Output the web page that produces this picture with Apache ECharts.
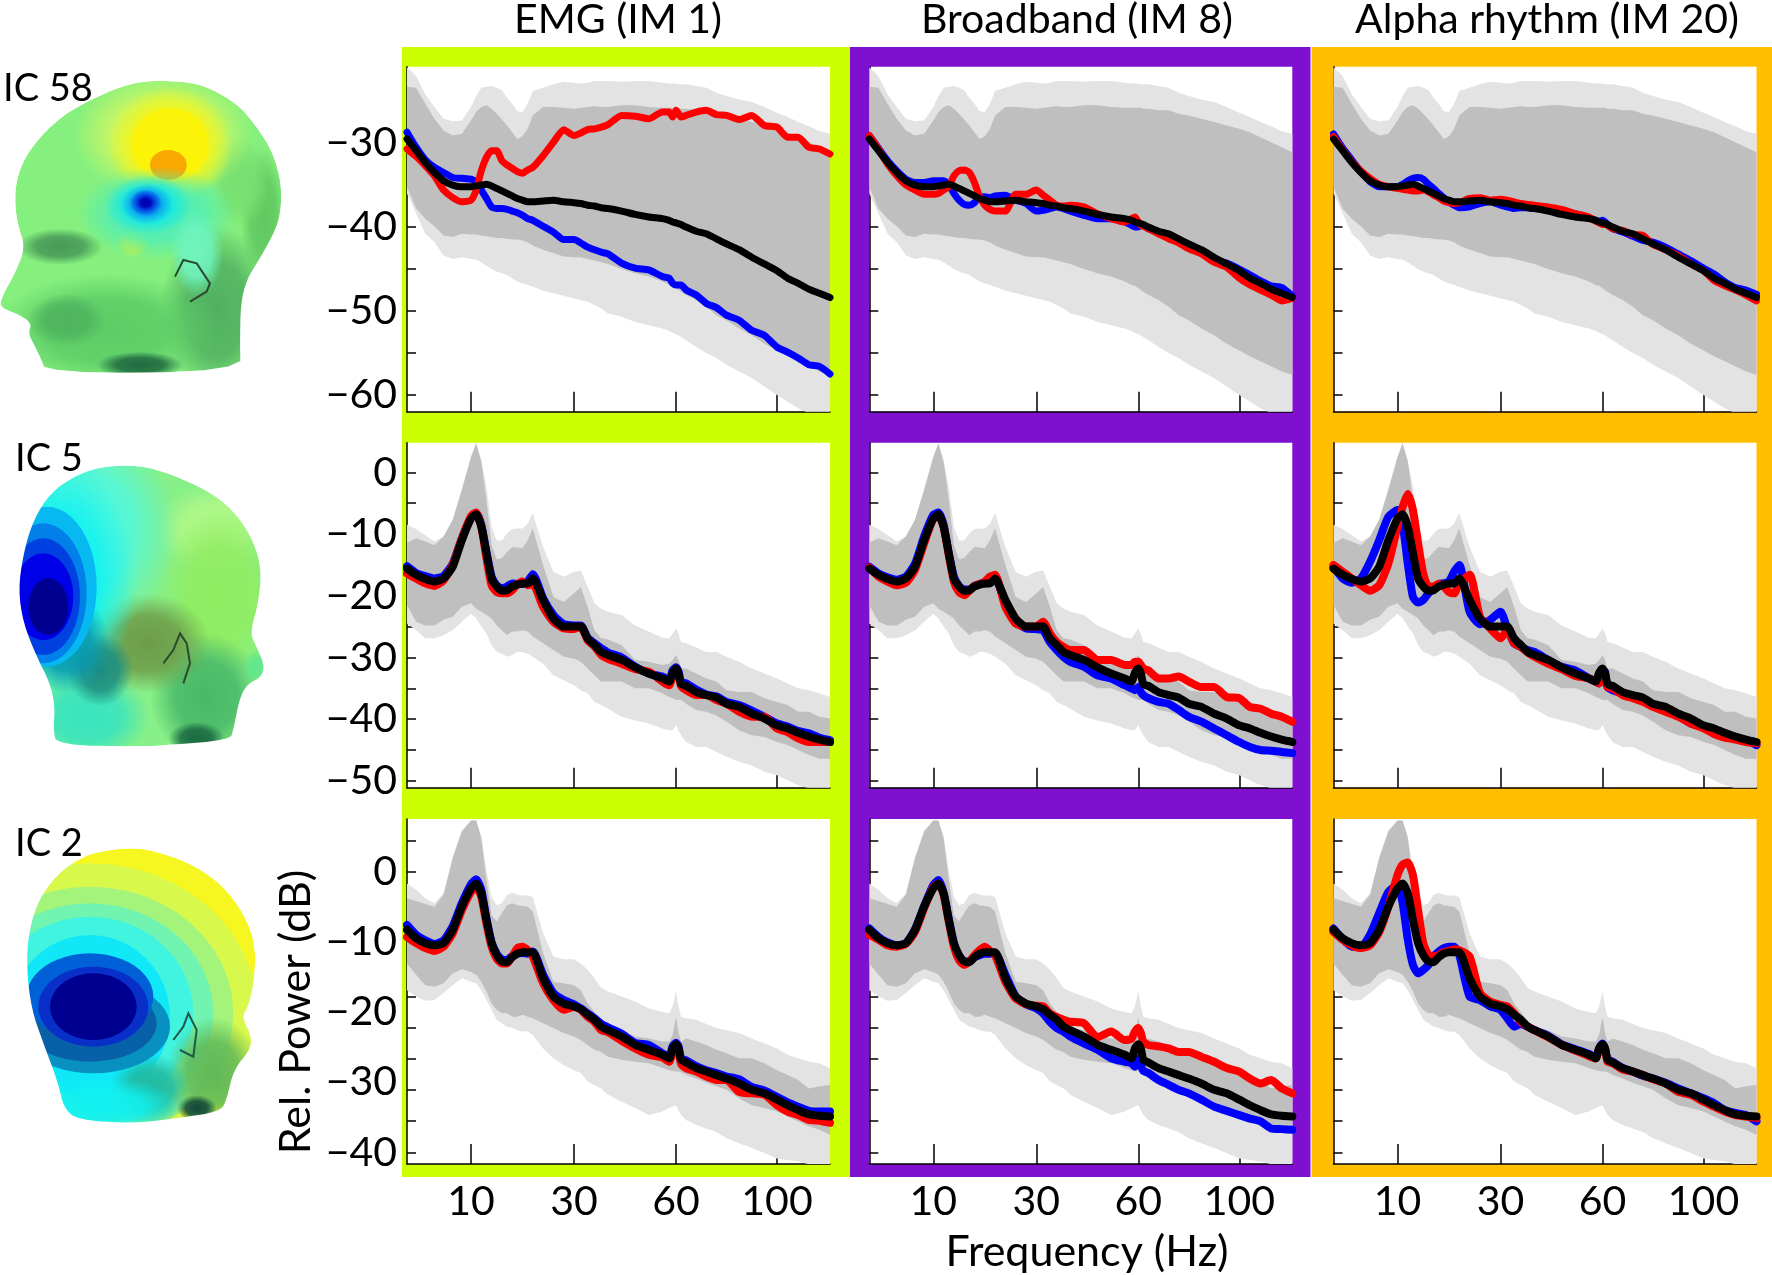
<!DOCTYPE html>
<html><head><meta charset="utf-8">
<style>html,body{margin:0;padding:0;background:#fff}#c{width:1772px;height:1275px}</style>
<script src="https://cdn.jsdelivr.net/npm/echarts@6/dist/echarts.min.js"></script>
</head><body><div id="c"></div>
<script>
// ---------- shared frequency samples (Hz) and tick labels ----------
const freqHz=[3,4,5,6,7,8,9,10,11,12, 13,14,15,16,17,18,19,20,21,22, 24,26,28,30, 32,34,36,38,40, 44,48,52,56,58, 59,60,61,62,64, 68,72,76,80,85, 90,95,100, 105,110,115,120,125];
const xTicks=[10,30,60,100];
const warpHz=[3,10,30,60,100,125];
const warpAxis=[0,64,167,269,370,423];
const columnTitles=['EMG (IM 1)','Broadband (IM 8)','Alpha rhythm (IM 20)'];
const rowLabels=['IC 58','IC 5','IC 2'];
const row1TickVals=[-25,-30,-35,-40,-45,-50,-55,-60];
const row1Labels=[-30,-40,-50,-60];
const row2TickVals=[0,-5,-10,-15,-20,-25,-30,-35,-40,-45,-50];
const row2Labels=[0,-10,-20,-30,-40,-50];
const row3TickVals=[4.44,0,-4.44,-8.89,-13.33,-17.78,-22.22,-26.67,-31.11,-35.56,-40];
const row3Labels=[0,-10,-20,-30,-40];

// ---------- row 1 (IC 58) ----------
const r1LightHi=[-21,-22,-24.2,-25.7,-27.1,-27.4,-27.3,-25.7,-24.4,-23.4, -23.3,-23.2,-23.4,-23.7,-24.6,-25.3,-26.2,-26.3,-25.3,-23.8, -23.4,-23,-22.7,-22.8, -22.9,-22.8,-22.6,-22.6,-22.6, -22.7,-22.6,-22.6,-22.8,-22.9, -22.9,-22.9,-23,-23,-23, -23.2,-23.4,-24,-24.4,-24.8, -25.1,-25.7,-26.4, -26.9,-27.5,-28,-28.6,-28.9];
const r1DarkHi=[-23.3,-23.4,-25.3,-27.1,-28.5,-29.1,-28.9,-27.3,-26.3,-25.7, -25.5,-25.9,-26.5,-27.2,-27.9,-28.7,-29.5,-29.2,-28.3,-26.7, -25.7,-25.7,-25.8,-25.9, -25.8,-25.7,-25.6,-25.7,-25.7, -25.5,-25.5,-25.7,-25.8,-25.8, -25.8,-25.8,-25.8,-25.9,-25.9, -26.1,-26.1,-26.5,-26.7,-27.1, -27.5,-27.9,-28.3, -28.7,-29.3,-29.9,-30.5,-31.1];
const r1DarkLo=[-35.2,-37.8,-39,-39.9,-41,-41.2,-40.8,-40.9,-40.9,-41, -41.1,-41.2,-41.3,-41.3,-41.4,-41.5,-41.5,-41.6,-41.8,-42.2, -42.7,-43.1,-43.5,-43.6, -43.6,-43.8,-44,-44.2,-44.4, -45,-45.5,-45.9,-46.5,-46.9, -47,-47.3,-47.5,-47.7,-48.1, -48.7,-49.5,-50.5,-51.1,-52.1, -52.9,-53.9,-54.7, -55.4,-56,-56.6,-57.2,-57.6];
const r1LightLo=[-36,-38.4,-40.8,-41.8,-43.4,-43.8,-43.6,-43.8,-43.9,-44.2, -44.6,-45,-45.3,-45.5,-45.7,-46.1,-46.5,-46.7,-46.9,-47.1, -47.6,-47.9,-48.2,-48.5, -48.7,-48.9,-49.3,-49.7,-50.3, -50.7,-51.3,-51.7,-52.1,-52.4, -52.6,-52.8,-52.9,-53.1,-53.5, -54.3,-55,-55.6,-56.4,-57.2, -58,-59,-60, -60.8,-61.6,-62.2,-62.8,-63.4];
const r1Black=[-29.5,-30.9,-32.3,-33.5,-34.5,-35,-35.2,-35.2,-35.1,-35, -34.9,-35.1,-35.4,-35.7,-36,-36.3,-36.6,-36.8,-37,-37, -36.9,-36.8,-37,-37.1, -37.2,-37.4,-37.5,-37.7,-37.8, -38.1,-38.5,-38.8,-39,-39.2, -39.4,-39.5,-39.6,-39.7,-40, -40.5,-40.8,-41.4,-42,-42.7, -43.6,-44.4,-45.2, -46.1,-46.7,-47.4,-47.9,-48.4];
const r1c1Red=[-30.7,-31.6,-32.7,-33.9,-35.6,-36.5,-37,-36.8,-35.6,-33.3, -31.7,-30.9,-30.9,-32.1,-32.6,-33,-33.4,-33.6,-33.2,-32.9, -31.5,-29.9,-28.4,-29.1, -28.8,-28.4,-28.3,-28.1,-27.8, -26.7,-26.8,-27.1,-26.3,-26.3, -26.9,-26.1,-26.5,-26.9,-26.7, -26.3,-26.1,-26.6,-26.7,-27.2, -26.7,-27.9,-28.1, -29.3,-29.3,-30.5,-30.7,-31.3];
const r1c1Blue=[-28.7,-30.5,-32,-32.9,-33.5,-34.1,-34.2,-34.3,-34.7,-35.6, -36.6,-37.6,-37.8,-37.8,-37.9,-38.1,-38.3,-38.6,-39,-39.2, -39.9,-40.6,-41.5,-41.5, -41.9,-42.4,-42.7,-43,-43.2, -44.3,-44.9,-45.1,-45.9,-46.1, -46.7,-46.9,-46.9,-46.9,-47.5, -48.1,-49.1,-49.6,-50.5,-51.1, -52.3,-52.9,-54.3, -54.9,-55.6,-56.4,-56.6,-57.5];
const r1c2Red=[-29.1,-30.7,-32.5,-33.9,-35,-35.6,-36.1,-36.1,-36,-35.6, -35.2,-33.9,-33.3,-33.2,-33.5,-34.7,-36.4,-37.4,-37.9,-38.1, -38.1,-36.1,-36.1,-35.6, -36.2,-36.8,-37.4,-37.5,-37.4, -37.6,-38.4,-39,-39.4,-39, -38.8,-39.4,-39.8,-39.9,-40.2, -40.8,-41.4,-41.9,-42.6,-43.2, -44.2,-44.8,-46.1, -46.9,-47.5,-48.1,-48.8,-48.5];
const r1c2Blue=[-29.1,-30.6,-32.1,-33.3,-34.3,-34.7,-34.7,-34.5,-34.5,-34.5, -34.9,-36,-36.8,-37.3,-37.4,-37.1,-36.4,-36.4,-36.5,-36.3, -36.2,-36.8,-37.2,-38.1, -38,-37.8,-37.6,-37.8,-38.1, -38.6,-39,-39,-39.4,-39.8, -40,-40,-39.8,-39.8,-40.2, -40.6,-41.1,-41.6,-42.2,-43, -43.9,-44.3,-45, -45.7,-46.4,-47,-47.2,-48.2];
const r1c3Red=[-29.2,-30.8,-32.2,-33.3,-34.2,-34.9,-35.2,-35.4,-35.5,-35.6, -35.7,-35.7,-35.6,-35.8,-36.2,-36.5,-36.9,-37.1,-37.2,-37.1, -36.6,-36.5,-36.8,-36.7, -36.8,-37,-37.2,-37.3,-37.4, -37.6,-37.9,-38.4,-38.8,-39.3, -39.5,-39.7,-39.7,-39.8,-40.2, -40.4,-40.9,-41,-42.1,-42.7, -43.4,-44.4,-45.2, -46.4,-47,-47.5,-48.1,-48.8];
const r1c3Blue=[-28.9,-30.6,-32,-33.4,-34.6,-35.2,-35.2,-35.2,-34.9,-34.5, -34.2,-34.1,-34.3,-34.9,-35.4,-36,-36.5,-37,-37.4,-37.7, -37.6,-37.2,-37,-37.4, -37.6,-37.8,-37.7,-37.7,-37.8, -37.9,-38.2,-38.4,-38.9,-39.2, -39.3,-39.2,-39.4,-39.7,-40.2, -40.6,-41.1,-41.6,-41.8,-42.4, -43.2,-44,-44.9, -45.6,-46.5,-47.2,-47.5,-48];

// ---------- row 2 (IC 5) ----------
const r2LightHi=[-8.5,-9.2,-10.2,-11.2,-10.4,-7.7,-2.6,2.5,4.7,2, -2.3,-8.8,-11.1,-11,-9.9,-9.2,-9.1,-9.1,-8.3,-6.6, -12.1,-16.1,-16.9,-16.1, -15.9,-18.5,-21.2,-22.1,-22.6, -23.1,-24.8,-25.8,-26.8,-26.9, -26.1,-25.3,-26.1,-27.5,-27.7, -28.4,-29.1,-29.1,-29.9,-30.7, -31.8,-32.6,-33.4, -34.2,-35,-35.3,-35.8,-36.4];
const r2DarkHi=[-11.4,-10.7,-11.2,-11.8,-10.4,-7.7,-2.9,2.5,4.7,1.7, -4.5,-11.8,-14.1,-13.9,-12.9,-12.1,-12.2,-12.3,-11,-9.1, -15,-20.2,-21,-19.6, -18.6,-21.8,-25.6,-26.9,-27.1, -28,-30.4,-30.7,-31.2,-31, -30.4,-29.6,-30.4,-31.8,-31.8, -32.6,-33.4,-33.9,-35.3,-35.6, -35.6,-36.6,-37.2, -37.7,-38.8,-38.8,-39.6,-39.9];
const r2DarkLo=[-21.5,-24.2,-24.8,-24.8,-23.9,-23.4,-21.8,-21.2,-22.1,-22.6, -23.1,-23.7,-24.8,-25.6,-26.4,-25.8,-25.8,-25.6,-25.8,-26.6, -27.7,-28.8,-29.9,-30.2, -30.7,-31.8,-32.9,-33.9,-33.9, -33.9,-35,-35,-35.8,-36.4, -36.6,-36.9,-36.9,-36.9,-37.5, -38.5,-38.8,-39.4,-40.4,-41.8, -42.6,-42.9,-43.7, -44.2,-45,-45.8,-46.4,-46.4];
const r2LightLo=[-24.5,-25.6,-26.9,-26.9,-26.4,-25.6,-24.2,-22.9,-23.7,-25, -26.1,-28,-29.1,-29.4,-29.9,-29.6,-29.1,-29.1,-29.4,-29.9, -31,-32.9,-33.7,-34.5, -35.3,-35.8,-37.2,-37.7,-38.3, -39.6,-40.2,-40.7,-41.5,-41.8, -41.8,-41,-41.8,-42.6,-43.7, -44.5,-44.5,-45.3,-46.1,-46.9, -47.5,-48.5,-49.1, -49.9,-50.7,-51.2,-51.8,-52.1];
const r2Black=[-15.6,-16.6,-17.3,-17.7,-17.2,-15.3,-11,-7.5,-6.8,-8.8, -13.1,-17.2,-18.5,-19.2,-19.1,-18.5,-18.2,-18,-18,-17.2, -20.7,-23.7,-25,-25, -25,-26.9,-28,-29.1,-29.6, -30.4,-31.6,-32.6,-33.4,-33.9, -32.5,-31.8,-32.6,-34.3,-34.6, -35.6,-36.1,-36.5,-37.5,-38, -39.1,-39.9,-41, -41.5,-42.2,-42.8,-43.3,-43.7];
const r2c1Red=[-16.4,-17.2,-18,-18.4,-17.5,-15,-10.7,-7.1,-6.5,-8.8, -13.9,-18.3,-19.4,-19.6,-19.6,-19.1,-18.1,-17.7,-18.3,-18.1, -21.8,-24.2,-25.3,-25.4, -25,-27.2,-28.2,-29.6,-30.2, -31,-31.9,-32.3,-33.9,-34.5, -32.9,-32.1,-32.9,-34.6,-35.3, -36.1,-36.1,-36.9,-37.5,-38.8, -39.6,-39.6,-41.5, -42.1,-43.1,-43.7,-43.7,-43.7];
const r2c1Blue=[-15.2,-16.3,-16.8,-17.2,-16.8,-14.8,-10.7,-7.3,-6.6,-8.5, -12.9,-16.9,-18.3,-18.8,-18.5,-18,-18.1,-18.1,-17.7,-16.5, -20.4,-23.1,-24.6,-24.8, -24.8,-26.8,-27.7,-28.5,-29.2, -30,-31.5,-32.6,-33.1,-33.7, -32.1,-31.6,-32.3,-33.9,-34.2, -35.2,-36,-36.3,-37.2,-37.7, -38.6,-39.6,-40.7, -41.2,-41.9,-42.3,-43,-43.4];
const r2c2Red=[-15.4,-16.9,-17.7,-18.3,-17.9,-15.8,-11.5,-7.5,-7.2,-8.8, -13.4,-17.7,-19.4,-19.9,-19.2,-18.4,-18.1,-17.7,-16.9,-16.6, -21.8,-24.5,-25,-25, -24.2,-26.1,-27.5,-28.3,-28.8, -28.8,-30.4,-30.4,-31.2,-31.2, -30.7,-30.7,-31.2,-31.8,-32.1, -33.4,-33.4,-33.1,-33.9,-34.8, -34.8,-36.4,-36.6, -38,-38.3,-39.1,-39.6,-40.4];
const r2c2Blue=[-15.3,-16.4,-17,-17.4,-16.9,-14.8,-10.4,-6.9,-6.5,-8.5, -13.1,-16.9,-18.4,-19,-19,-18.4,-18.1,-18,-17.9,-17.2, -21.2,-24.2,-25.3,-25.4, -25.6,-27.5,-28.8,-29.9,-30.7, -31.5,-32.9,-33.4,-34.5,-35, -35.3,-34.8,-35.6,-36.1,-36.6, -37.2,-37.5,-38.5,-39.6,-40.4, -41.5,-42.6,-43.7, -44.5,-45,-45.1,-45.3,-45.5];
const r2c3Red=[-15,-16.1,-17.2,-18.3,-19.2,-18.3,-14.8,-8.8,-5.6,-3.5, -6.1,-11.5,-16.4,-18.5,-18.5,-18.1,-18.5,-19.4,-19.6,-18, -16.6,-23.4,-25.3,-26.9, -25.6,-27.7,-28.3,-29.2,-29.9, -31,-31.9,-33,-33.4,-33.9, -34.2,-32.9,-33.1,-34.8,-35, -36.1,-36.6,-37.2,-38,-38.8, -39.6,-40.7,-41.5, -42.4,-43,-43.3,-43.7,-43.9];
const r2c3Blue=[-15.3,-17.2,-17.9,-17.2,-14.5,-11,-7.2,-6.1,-8.5,-14.8, -20.2,-21.1,-20.7,-19.6,-18.8,-18.1,-18,-17.7,-16.1,-15, -22.6,-24.6,-23.9,-22.6, -25.3,-27.7,-28.3,-28.8,-29.1, -30.4,-31.5,-32.1,-33.4,-33.9, -34.2,-32.1,-32.3,-34.8,-35.3, -35.8,-36.4,-36.6,-37.7,-38.3, -39.4,-40.7,-41.2, -42.1,-42.6,-43.1,-43.4,-44.2];

// ---------- row 3 (IC 2) ----------
const r3LightHi=[-1.7,-2.6,-3.8,-4.5,-3.1,2.1,5.9,7.3,7.3,5, 0.2,-3.6,-4.8,-4.5,-3.3,-3,-3.3,-3.4,-3.4,-3.6, -8.8,-12.1,-12.5,-12.5, -13.1,-14,-15.2,-16.6,-17.1, -17.8,-18.5,-19.5,-20,-20.2, -19.2,-17.1,-19.2,-20.7,-20.9, -21.1,-21.7,-22.3,-22.6,-23, -23.8,-24.5,-25.2, -26.1,-26.6,-27.1,-27.3,-28];
const r3DarkHi=[-3.8,-4.2,-4.6,-5,-3.3,1.9,5.7,7.3,7.3,4.8, -1.2,-6.2,-7.1,-5.9,-4.8,-4.5,-4.8,-4.9,-5,-5.7, -11.6,-15.7,-15.9,-16.2, -16.9,-18.8,-20,-21.4,-22.1, -22.6,-23.5,-23.8,-24.2,-24.2, -23.3,-20.7,-23,-24.2,-23.8, -24.2,-24.7,-25.4,-25.9,-26.6, -26.6,-27.3,-28.3, -29,-29.7,-30.9,-30.6,-30.4];
const r3DarkLo=[-13.1,-14.7,-16.2,-16.4,-15.9,-14.5,-13.9,-14.3,-14.7,-15.7, -17.1,-18.8,-19.7,-20.2,-20.2,-20.7,-20.7,-20.4,-20.7,-20.9, -21.6,-22.3,-23,-23.5, -24,-24.7,-25.4,-25.7,-26.4, -26.8,-27.1,-27.3,-28,-28.3, -28.4,-28.5,-28.5,-28.6,-29, -29.5,-30.1,-30.6,-31.1,-32.3, -33.3,-33.7,-34.2, -34.9,-35.6,-36.3,-36.8,-37.5];
const r3LightLo=[-16.9,-17.8,-18.4,-18.3,-17.3,-16.2,-15.2,-15.7,-15.9,-16.9, -18.3,-19.7,-21.1,-21.6,-22.1,-22.3,-22.6,-22.8,-22.8,-23.3, -25.2,-26.6,-27.6,-28.3, -28.7,-29.9,-30.4,-30.9,-31.8, -32.8,-33.7,-34.7,-34.2,-33.7, -33.5,-33.3,-34,-34.7,-35.4, -36.1,-36.6,-37.1,-38,-38.7, -39.4,-40.1,-40.9, -41.1,-41.3,-41.7,-42,-42.4];
const r3Black=[-8.3,-9.5,-10.2,-10.5,-10.2,-8.3,-5,-2.4,-1.7,-3.1, -6.9,-10.2,-11.9,-12.8,-12.9,-12.2,-11.7,-11.5,-11.5,-11.5, -15.2,-17.8,-18.8,-19.2, -19.6,-20.4,-21.1,-22.1,-22.6, -23.5,-24.7,-25.4,-26.1,-26.6, -25.2,-24.6,-25.2,-26.8,-27.2, -28,-28.5,-29,-29.5,-30.2, -31.1,-31.6,-32.5, -33.3,-34,-34.6,-34.8,-34.9];
const r3c1Red=[-9.3,-10.2,-10.9,-11.3,-10.7,-8.8,-5.5,-2.9,-2.2,-3.6, -7.4,-10.7,-12.4,-13.1,-13.1,-12.1,-10.9,-10.7,-11.2,-12.1, -15.9,-18.3,-19.7,-19.3, -19.7,-20.7,-21.4,-22.6,-22.9, -24.1,-25.2,-26.1,-26.5,-27.1, -25.7,-25,-25.7,-27.4,-28, -28.5,-29.2,-29.7,-29.7,-31.4, -31.6,-31.8,-33.3, -34.2,-34.7,-35.4,-35.5,-35.8];
const r3c1Blue=[-7.6,-9,-9.8,-10.3,-9.8,-7.8,-4.5,-1.8,-1.1,-2.6, -6.7,-10.1,-11.7,-12.5,-12.6,-12,-11.7,-11.6,-11.7,-11.4, -14.7,-17.3,-18.3,-18.9, -19.5,-20.2,-20.9,-21.7,-22.2, -23.1,-24.4,-24.7,-25.9,-26.4, -24.9,-24.4,-24.9,-26.6,-26.9, -27.7,-28.3,-28.7,-29.2,-29.6, -30.7,-31.2,-32.1, -32.9,-33.5,-34.1,-34.2,-34.2];
const r3c2Red=[-9,-9.7,-10.5,-10.7,-10.3,-8.6,-5.2,-2.2,-1.7,-3.3, -7.1,-10.7,-12.6,-13.3,-12.8,-11.9,-11.2,-10.7,-11.3,-11.9, -15.7,-18.1,-18.9,-19.1, -19.2,-20.2,-20.7,-21.1,-21.4, -21.6,-23.6,-22.8,-24,-23.8, -22.8,-22.3,-23,-24.2,-24.7, -24.9,-25.2,-25.7,-25.7,-26.4, -27.1,-28,-28.5, -29.5,-30.2,-29.7,-30.9,-31.6];
const r3c2Blue=[-8.1,-9.3,-10.1,-10.5,-10.2,-8.2,-4.9,-1.9,-1.2,-3, -6.7,-10.2,-12.1,-12.8,-12.8,-12.2,-11.9,-11.7,-11.7,-11.6, -14.7,-17.8,-18.9,-19.5, -20.2,-21.4,-22.3,-22.8,-23.5, -24.5,-25.4,-26.6,-27.1,-27.3, -27.8,-26.6,-27.6,-28.4,-28.7, -29.7,-30.4,-31.1,-31.6,-32.5, -33.5,-34.1,-34.7, -35.2,-35.6,-36.6,-36.7,-36.8];
const r3c3Red=[-8.6,-9.7,-10.5,-10.9,-10.5,-8.6,-5,-0.5,1,1.3, -0.5,-5.5,-10.2,-11.9,-12.1,-11.9,-11.5,-11.3,-11.1,-11.2, -12.1,-17.3,-18.5,-19, -19.2,-20.2,-21.4,-22.1,-22.6, -23.6,-24.7,-25.5,-26.3,-26.6, -25.2,-24.7,-25.2,-27.1,-27.3, -28.2,-28.5,-29,-29.6,-30.2, -31.4,-31.8,-32.8, -33.5,-34.2,-34.7,-34.9,-35.1];
const r3c3Blue=[-8.1,-9.6,-10.7,-10.7,-9,-5.9,-2.9,-1.9,-4.5,-9.7, -13.3,-14.5,-14,-13.3,-12.1,-11.4,-10.9,-10.7,-10.7,-11.9, -17.8,-18.3,-19.2,-19.7, -20.9,-22.1,-21.7,-22.1,-22.6, -23.4,-24.6,-25.3,-26,-26.5, -25.2,-24.5,-25.2,-26.7,-27.1, -28,-28.5,-29.1,-29.5,-30.1, -30.9,-31.6,-32.3, -33,-34,-34.4,-34.7,-35.6];

// ---------- layout & styling ----------
const FONT='Lato';
const GREY_L='#E3E3E3',GREY_D='#BFBFBF';
const panelLeft=[407,869.3,1333.5], panelTop=[66.7,442.7,819], panelW=423, panelH=345;
const frames=[[402,850,'#CCFF00'],[850,1310.5,'#7F10CF'],[1311.5,1772,'#FFBF00']];
const titleX=[618,1077,1547];
const rows=[
 {yMin:-62,yMax:-20.9,ticks:row1TickVals,labels:row1Labels,lw:7,cw:7,bands:[r1LightHi,r1LightLo,r1DarkHi,r1DarkLo],black:r1Black,red:[r1c1Red,r1c2Red,r1c3Red],blue:[r1c1Blue,r1c2Blue,r1c3Blue]},
 {yMin:-51.1,yMax:4.8,ticks:row2TickVals,labels:row2Labels,lw:8,cw:8,bands:[r2LightHi,r2LightLo,r2DarkHi,r2DarkLo],black:r2Black,red:[r2c1Red,r2c2Red,r2c3Red],blue:[r2c1Blue,r2c2Blue,r2c3Blue]},
 {yMin:-41.67,yMax:7.5,ticks:row3TickVals,labels:row3Labels,lw:8,cw:8,bands:[r3LightHi,r3LightLo,r3DarkHi,r3DarkLo],black:r3Black,red:[r3c1Red,r3c2Red,r3c3Red],blue:[r3c1Blue,r3c2Blue,r3c3Blue]}
];
// The x axis of the figure is warped (equal spacing for 10/30/60/100 Hz).
function warp(hz){
  for(let i=1;i<warpHz.length;i++){
    if(hz<=warpHz[i]){const t=(hz-warpHz[i-1])/(warpHz[i]-warpHz[i-1]);return warpAxis[i-1]+t*(warpAxis[i]-warpAxis[i-1]);}
  }
  return warpAxis[warpAxis.length-1];
}
const fmtY=v=>String(v).replace('-','\u2212');
const fmtX=v=>{let b=xTicks[0];xTicks.forEach(h=>{if(Math.abs(warp(h)-v)<Math.abs(warp(b)-v))b=h;});return String(b);};
const pairs=a=>freqHz.map((h,i)=>[warp(h),a[i]]);

function bandSeries(name,hi,lo,color,ax){
  const data=freqHz.map((h,i)=>[warp(h),lo[i],hi[i]]);
  return {type:'custom',name,xAxisIndex:ax,yAxisIndex:ax,clip:true,silent:true,z:2,
    encode:{x:0,y:[1,2]},data,
    renderItem(params,api){
      if(params.dataIndex!==0)return null;
      const up=data.map(d=>api.coord([d[0],d[2]]));
      const dn=data.map(d=>api.coord([d[0],d[1]])).reverse();
      return {type:'polygon',shape:{points:up.concat(dn)},style:{fill:color,stroke:null}};
    }};
}
function lineSeries(a,color,w,ax,z){
  return {type:'line',data:pairs(a),xAxisIndex:ax,yAxisIndex:ax,showSymbol:false,symbol:'none',smooth:0.2,z,
    lineStyle:{color,width:w,cap:'round',join:'round'},silent:true,clip:true};
}

const grid=[],xAxis=[],yAxis=[],series=[];
const tickLine={color:'#000',width:1.5};
rows.forEach((R,r)=>{
  [0,1,2].forEach(c=>{
    const ax=grid.length;
    grid.push({left:panelLeft[c],top:panelTop[r],width:panelW,height:panelH,show:true,backgroundColor:'#fff',borderWidth:0,containLabel:false});
    xAxis.push({type:'value',gridIndex:ax,min:0,max:423,position:'bottom',splitLine:{show:false},
      axisLine:{show:true,onZero:false,lineStyle:tickLine},
      axisTick:{show:true,inside:true,length:20,lineStyle:tickLine,customValues:xTicks.map(warp)},
      axisLabel:{show:r===2,customValues:xTicks.map(warp),formatter:fmtX,fontFamily:FONT,fontSize:41,color:'#000',margin:17,hideOverlap:false}});
    yAxis.push({type:'value',gridIndex:ax,min:R.yMin,max:R.yMax,position:'left',splitLine:{show:false},
      axisLine:{show:true,onZero:false,lineStyle:tickLine},
      axisTick:{show:true,inside:true,length:9,lineStyle:tickLine,customValues:R.ticks},
      axisLabel:{show:c===0,customValues:R.labels,formatter:fmtY,fontFamily:FONT,fontSize:41,color:'#000',margin:10,hideOverlap:false}});
    series.push(bandSeries('light',R.bands[0],R.bands[1],GREY_L,ax));
    series.push(bandSeries('dark',R.bands[2],R.bands[3],GREY_D,ax));
    series.push(lineSeries(R.blue[c],'#0000FF',R.cw,ax,3));
    series.push(lineSeries(R.red[c],'#FF0000',R.cw,ax,4));
    series.push(lineSeries(R.black,'#000',R.lw,ax,5));
  });
});

// ---------- decorative head illustrations ----------
// blob: [cx, cy, rx, ry, colour, soft?]  soft blobs fade out at their rim.
const heads=[
 {ox:0,oy:50,box:[0,52,295,405],
  outline:[[420,95],[500,92],[590,100],[660,130],[720,170],[770,230],[815,300],[840,380],[845,450],[835,520],[800,590],[770,640],[740,690],[722,760],[720,880],[722,965],[140,970],[120,920],[100,880],[85,850],[95,820],[60,795],[5,775],[0,750],[50,660],[75,590],[55,530],[45,470],[47,400],[70,330],[120,260],[190,195],[270,150],[350,115]],
  base:'#86F07E',
  blobs:[[650,780,170,260,'#50B060',1],[320,840,340,170,'#5CCC66',1],[420,945,130,40,'#206A40',1],[200,810,120,80,'#4EB45E',1],[180,590,130,55,'#489A58',1],[790,500,70,210,'#60C860',1],[720,400,90,140,'#78E070',1],
   [490,255,270,190,'#D4F860',1],[510,285,190,175,'#FCF408',1],[510,285,115,110,'#FCF408',0],[505,345,55,45,'#F8A800',0],
   [400,575,50,50,'#C8F040',1],
   [470,490,240,140,'#50EEB8',1],[590,610,80,130,'#70F4C0',1],[445,465,130,90,'#10E8E8',1],[440,462,78,60,'#0898F0',1],[437,458,48,40,'#0030E0',1],[437,458,26,22,'#0000B0',1]],
  ear:[[525,680],[550,630],[590,640],[630,700],[620,725],[570,755]],earColor:'#2A4A30'},
 {ox:0,oy:430,box:[0,405,295,785],
  outline:[[300,110],[420,105],[520,135],[620,180],[700,240],[760,330],[785,420],[775,520],[750,610],[770,650],[795,710],[780,745],[745,760],[720,800],[700,900],[690,930],[500,945],[430,950],[170,945],[160,900],[165,830],[150,760],[110,680],[70,580],[55,480],[70,370],[100,270],[150,190],[220,140]],
  base:'#88F088',
  blobs:[[640,300,170,140,'#B0F888',1],[660,500,180,260,'#90EC60',1],[620,800,170,190,'#48B868',1],[440,640,190,150,'#6E9C48',1],[590,925,85,50,'#1A6A40',1],[770,710,40,50,'#62E68C',1],
   [230,300,300,330,'#50F8E0',1],[170,450,240,370,'#10F2F2',1],[260,860,190,140,'#38E4C0',1],[300,720,100,110,'#1C8C80',1],
   [200,640,130,150,'#0898B0',1],[140,470,150,240,'#08B8F0',0],[130,490,130,210,'#0080E8',0],[130,500,110,175,'#0040E0',0],[130,500,90,130,'#0000E8',0],[145,530,60,85,'#000090',0]],
  ear:[[490,700],[520,660],[540,610],[560,640],[570,700],[550,760]],earColor:'#2A4A30'},
 {ox:0,oy:810,box:[0,785,295,1160],
  outline:[[290,125],[400,112],[470,125],[560,155],[650,210],[720,290],[765,390],[765,500],[745,590],[725,620],[755,680],[750,720],[700,780],[680,870],[660,905],[530,925],[400,940],[230,930],[190,890],[175,820],[130,700],[95,600],[80,480],[85,370],[115,270],[170,195],[230,150]],
  base:'#F6F620',
  blobs:[[270,600,500,440,'#D8F84C',0],[270,610,430,380,'#A4F47C',0],[270,610,370,330,'#70F4B0',0],[270,610,310,290,'#40F4E0',0],[270,620,240,245,'#10E8F8',0],
   [640,790,140,170,'#60B858',1],[590,895,60,40,'#104838',1],[450,840,120,110,'#20B8A0',1],[300,890,240,90,'#10F0F0',1],
   [280,650,230,140,'#0890C0',0],[270,640,200,115,'#0860A8',0],[270,560,190,130,'#0060D8',0],[280,590,165,120,'#0830C8',0],[280,590,130,100,'#000090',0]],
  ear:[[520,690],[550,650],[565,610],[590,660],[580,740],[540,720]],earColor:'#20584A'}
];
const graphicEls=[];
frames.forEach(f=>graphicEls.push({type:'rect',z:-20,silent:true,shape:{x:f[0],y:47,width:f[1]-f[0],height:1177-47},style:{fill:f[2]}}));
function ell(cx,cy,rx,ry){const p=[];for(let k=0;k<48;k++){const a=k/48*2*Math.PI;p.push([cx+rx*Math.cos(a),cy+ry*Math.sin(a)]);}return p;}
function chaikin(pts,n){let p=pts;for(let i=0;i<n;i++){const q=[];p.forEach((a,j)=>{const b=p[(j+1)%p.length];q.push([a[0]*.75+b[0]*.25,a[1]*.75+b[1]*.25],[a[0]*.25+b[0]*.75,a[1]*.25+b[1]*.75]);});p=q;}return p;}
function softFill(hex){
  const n=parseInt(hex.slice(1),16),c=`${n>>16},${(n>>8)&255},${n&255}`;
  return {type:'radial',x:.5,y:.5,r:.5,colorStops:[{offset:0,color:`rgba(${c},1)`},{offset:.55,color:`rgba(${c},.85)`},{offset:1,color:`rgba(${c},0)`}]};
}
heads.forEach(h=>{
  const T=p=>[h.ox+p[0]/3,h.oy+p[1]/3];
  const sil=chaikin(h.outline,2).map(T);
  const [x0,y0,x1,y1]=h.box;
  graphicEls.push({type:'polygon',z:-5,silent:true,shape:{points:sil},style:{fill:h.base}});
  h.blobs.forEach(b=>{
    if(b[5]){
      // unit circle scaled to an ellipse, so the fade follows the ellipse rather than a circle
      const c=T([b[0],b[1]]);
      graphicEls.push({type:'circle',z:-4,silent:true,x:c[0],y:c[1],scaleX:b[2]/3,scaleY:b[3]/3,shape:{cx:0,cy:0,r:1},style:{fill:softFill(b[4])}});
    }else{
      const pts=ell(b[0],b[1],b[2],b[3]).map(T).map(p=>[Math.min(x1,Math.max(x0,p[0])),Math.min(y1,Math.max(y0,p[1]))]);
      graphicEls.push({type:'polygon',z:-4,silent:true,shape:{points:pts},style:{fill:b[4]}});
    }
  });
  graphicEls.push({type:'polyline',z:-3,silent:true,shape:{points:h.ear.map(T)},style:{stroke:h.earColor,lineWidth:2,fill:null}});
  // white mask with a silhouette-shaped hole keeps the colour map inside the head
  const mask=[[x0,y0],[x1,y0],[x1,y1],[x0,y1],[x0,y0]].concat([sil[0]],sil.slice().reverse(),[sil[0]],[[x0,y0]]);
  graphicEls.push({type:'polygon',z:-2,silent:true,shape:{points:mask},style:{fill:'#fff'}});
});
const txt=(text,x,y,align,size,rot)=>({type:'text',z:50,silent:true,x,y,rotation:rot||0,
  style:{text,fontFamily:FONT,fontSize:size,fill:'#000',align,verticalAlign:'middle'}});
columnTitles.forEach((t,i)=>graphicEls.push(txt(t,titleX[i],20,'center',41)));
graphicEls.push(txt(rowLabels[0],3,89,'left',38));
graphicEls.push(txt(rowLabels[1],15,459,'left',38));
graphicEls.push(txt(rowLabels[2],15,844,'left',38));
graphicEls.push(txt('Frequency (Hz)',1087,1252,'center',43));
graphicEls.push(txt('Rel. Power (dB)',296,1012,'center',43,Math.PI/2));

const chart=echarts.init(document.getElementById('c'),null,{renderer:'canvas',width:1772,height:1275});
chart.setOption({animation:false,backgroundColor:'#fff',grid,xAxis,yAxis,series,graphic:{elements:graphicEls},tooltip:{show:false}});
</script></body></html>
